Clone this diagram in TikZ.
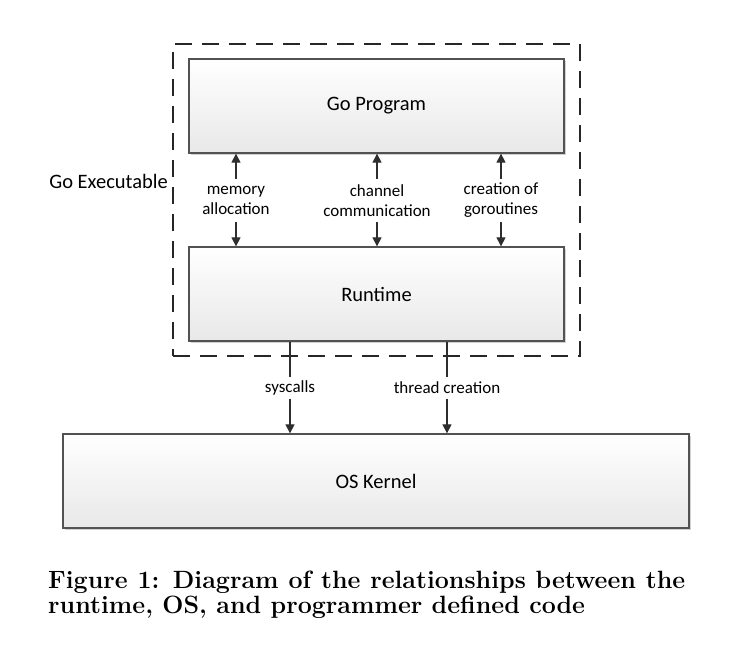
\documentclass[tikz,border=0pt]{standalone}
\usepackage{fontspec}
\newfontfamily\carlito{Carlito}
\usetikzlibrary{arrows.meta,shadows}
\begin{document}
\begin{tikzpicture}[x=1pt,y=-1pt,
  box/.style={draw=black!68, line width=1.3pt, top color=white, bottom color=black!9,
    drop shadow={shadow xshift=2pt, shadow yshift=-2pt, fill=black!18, opacity=1},
    inner sep=0pt, font=\carlito\fontsize{20.5}{24}\selectfont},
  lbltwo/.style={inner sep=0pt, minimum height=43pt, align=center, font=\carlito\fontsize{17}{20}\selectfont},
  lblone/.style={inner sep=0pt, minimum height=21pt, font=\carlito\fontsize{17}{20}\selectfont},
  conn/.style={draw=black!82, line width=1.1pt},
  arr/.style={conn, -{Triangle[width=9pt,length=9pt]}},
  dashbox/.style={draw=black!85, line width=1.2pt, dash pattern=on 17pt off 10pt, inner sep=0pt},
  captext/.style={anchor=base west, inner sep=0pt, font=\bfseries\fontsize{25}{25}\selectfont}
]
\useasboundingbox[fill=white] (0,0) rectangle (730,650);

% dashed enclosure
\node[dashbox, minimum width=407pt, minimum height=312pt] (exe) at (376.5,200) {};
\node[anchor=east, inner sep=0pt, font=\carlito\fontsize{20.5}{24}\selectfont] (exelbl) at (168,181) {Go Executable};

% boxes
\node[box, minimum width=375pt, minimum height=94pt] (prog) at (376.5,106) {\raisebox{-2pt}{Go Program}};
\node[box, minimum width=375pt, minimum height=94pt] (rt) at (376.5,294) {\raisebox{-2pt}{Runtime}};
\node[box, minimum width=626pt, minimum height=94pt] (os) at (376,481) {\raisebox{-2pt}{OS Kernel}};

% labels between program and runtime
\node[lbltwo] (mem) at (236,200.5) {memory\\allocation};
\node[lbltwo] (chan) at (377,200.5) {channel\\communication};
\node[lbltwo] (gor) at (501,200.5) {creation of\\goroutines};

\draw[arr] (mem.north) -- (mem.north |- prog.south);
\draw[arr] (mem.south) -- (mem.south |- rt.north);
\draw[arr] (chan.north) -- (chan.north |- prog.south);
\draw[arr] (chan.south) -- (chan.south |- rt.north);
\draw[arr] (gor.north) -- (gor.north |- prog.south);
\draw[arr] (gor.south) -- (gor.south |- rt.north);

% runtime to OS
\node[lblone] (sys) at (290,388) {syscalls};
\node[lblone] (thr) at (447,388) {thread creation};
\draw[conn] (sys.north |- rt.south) -- (sys.north);
\draw[arr] (sys.south) -- (sys.south |- os.north);
\draw[conn] (thr.north |- rt.south) -- (thr.north);
\draw[arr] (thr.south) -- (thr.south |- os.north);

% caption
\node[captext] (cap1) at (48,588)
  {\makebox[637pt][s]{Figure 1: Diagram of the relationships between the}};
\node[captext] (cap2) at (48,613)
  {runtime, OS, and programmer defined code};
\end{tikzpicture}
\end{document}
